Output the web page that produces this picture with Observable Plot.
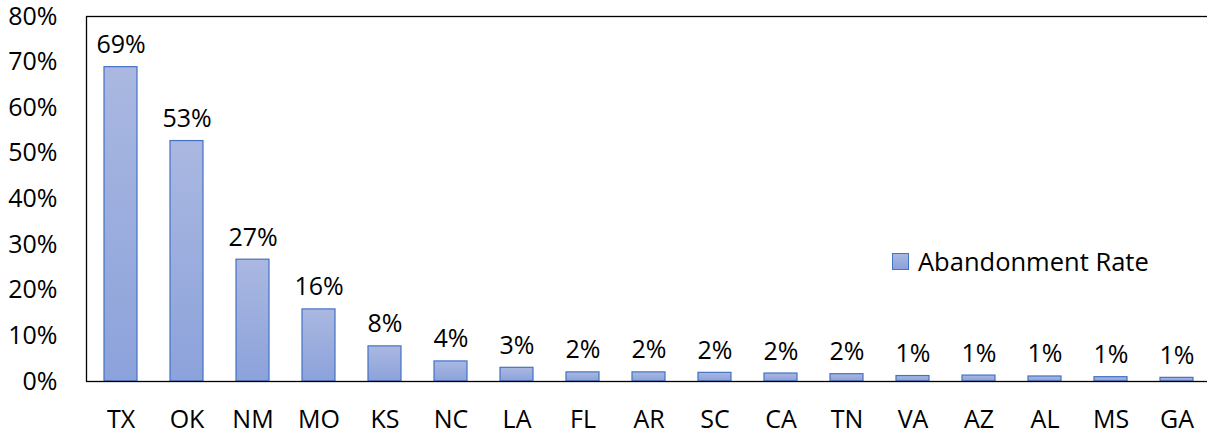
<!DOCTYPE html>
<html>
<head>
<meta charset="utf-8">
<script src="https://cdn.jsdelivr.net/npm/d3@7"></script>
<script src="https://cdn.jsdelivr.net/npm/@observablehq/plot@0.6"></script>
<style>
  html, body { margin: 0; padding: 0; background: #fff; overflow: hidden; }
  #wrap { position: relative; width: 1207px; height: 436px; }
  #legend { position: absolute; left: 892px; top: 244px; display: flex; align-items: center;
    font-family: "Open Sans", sans-serif; font-size: 25.5px; color: #000; white-space: nowrap; }
  #legend .sw { width: 15px; height: 15px; border: 1.2px solid #4472C4;
    background: linear-gradient(#AAB8E1, #8CA2DB); margin-right: 9px; }
</style>
</head>
<body>
<div id="wrap"><div id="legend"><div class="sw"></div><span>Abandonment Rate</span></div></div>
<script>
const states = ["TX","OK","NM","MO","KS","NC","LA","FL","AR","SC","CA","TN","VA","AZ","AL","MS","GA"];
const rates = [68.9, 52.7, 26.7, 15.8, 7.7, 4.4, 3.0, 2.0, 2.0, 1.9, 1.75, 1.6, 1.2, 1.3, 1.1, 0.95, 0.8];
const yTicks = [0, 10, 20, 30, 40, 50, 60, 70, 80];
const seriesName = "Abandonment Rate";

const data = states.map((s, i) => ({state: s, rate: rates[i]}));

const chart = Plot.plot({
  width: 1207,
  height: 436,
  marginLeft: 86,
  marginTop: 16,
  marginBottom: 55,
  marginRight: -4,
  style: {fontFamily: "Open Sans, sans-serif", fontSize: "25px", color: "#000", background: "#fff", overflow: "visible"},
  x: {domain: states, paddingInner: 0.5, paddingOuter: 0.25, label: null, tickSize: 0, tickPadding: 29},
  y: {domain: [0, 80], ticks: yTicks, tickFormat: d => d + "%", label: null, tickSize: 0, tickPadding: 29},
  marks: [
    Plot.barY(data, {x: "state", y: "rate", fill: "url(#barGrad)", stroke: "#4472C4", strokeWidth: 1.2}),
    Plot.text(data, {x: "state", y: "rate", text: d => Math.round(d.rate) + "%", lineAnchor: "bottom", dy: -14, fill: "#000"}),
    Plot.frame({stroke: "#000", strokeWidth: 1.3})
  ]
});

const svg = d3.select(chart);
const grad = svg.insert("defs", ":first-child").append("linearGradient")
  .attr("id", "barGrad").attr("x1", 0).attr("y1", 0).attr("x2", 0).attr("y2", 1);
grad.append("stop").attr("offset", "0%").attr("stop-color", "#AAB8E1");
grad.append("stop").attr("offset", "100%").attr("stop-color", "#8CA2DB");

document.getElementById("wrap").prepend(chart);
</script>
</body>
</html>
